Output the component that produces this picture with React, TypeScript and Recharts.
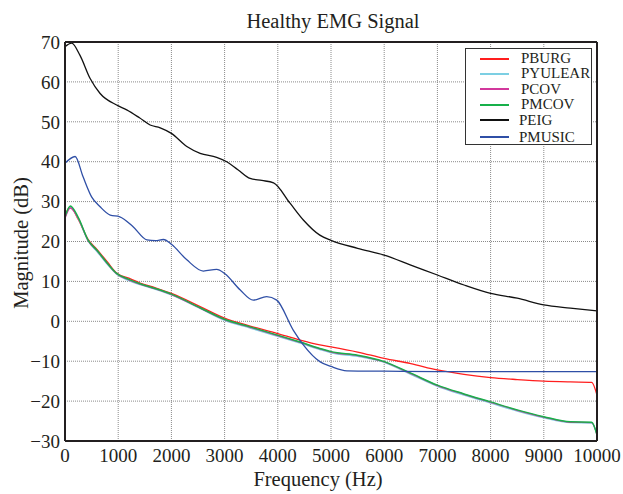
import { LineChart, Line, XAxis, YAxis, CartesianGrid } from 'recharts';

// axis ticks
const xTicks = [0, 1000, 2000, 3000, 4000, 5000, 6000, 7000, 8000, 9000, 10000];
const yTicks = [-30, -20, -10, 0, 10, 20, 30, 40, 50, 60, 70];

// AR-type estimates share one frequency grid
const arFreq = [0, 100, 250, 440, 600, 800, 970, 1200, 1410, 1700, 2000, 2540, 3000, 3480, 3980, 4420, 4790, 5000, 5500, 6000, 6500, 7000, 7500, 8000, 8500, 9000, 9500, 9900, 10000];
const pburgMag = [26.5, 28.7, 25.5, 20.4, 18.0, 14.8, 12.1, 10.8, 9.6, 8.4, 7.0, 3.7, 0.8, -1.2, -3.0, -4.7, -5.9, -6.4, -7.7, -9.3, -10.6, -12.2, -13.3, -14.1, -14.6, -15.0, -15.2, -15.3, -18.5];
const pyulearMag = [26.0, 28.6, 25.7, 20.0, 17.5, 14.2, 11.8, 10.2, 9.2, 8.0, 6.6, 3.2, 0.2, -1.7, -3.7, -5.5, -7.1, -7.9, -8.8, -10.3, -13.3, -16.3, -18.5, -20.5, -22.5, -24.2, -25.4, -25.5, -28.3];
const pcovMag = [25.8, 28.4, 25.8, 20.1, 17.7, 14.4, 11.9, 10.4, 9.3, 8.1, 6.7, 3.3, 0.4, -1.5, -3.5, -5.3, -6.9, -7.7, -8.6, -10.2, -13.1, -16.1, -18.3, -20.3, -22.3, -24.0, -25.3, -25.4, -28.4];
const pmcovMag = [26.2, 28.9, 26.0, 20.2, 17.8, 14.5, 12.0, 10.5, 9.4, 8.2, 6.8, 3.4, 0.5, -1.4, -3.4, -5.2, -6.8, -7.6, -8.5, -10.1, -13.0, -16.0, -18.2, -20.2, -22.2, -23.9, -25.2, -25.3, -28.5];

const peigFreq = [0, 125, 280, 470, 660, 970, 1160, 1400, 1600, 1790, 2000, 2290, 2540, 2850, 3040, 3250, 3480, 3700, 3920, 4230, 4480, 4790, 5000, 5500, 6000, 6500, 7000, 7500, 8000, 8500, 9000, 9500, 10000];
const peigMag = [68.8, 69.7, 66.7, 60.9, 57.1, 54.2, 53.0, 51.0, 49.2, 48.5, 47.1, 43.8, 42.1, 41.1, 40.0, 38.0, 35.8, 35.3, 34.7, 29.6, 25.4, 21.6, 20.3, 18.3, 16.6, 14.1, 11.6, 9.1, 7.0, 5.8, 4.1, 3.3, 2.6];

const pmusicFreq = [0, 190, 340, 500, 660, 850, 1030, 1280, 1540, 1700, 1850, 2000, 2290, 2600, 2850, 3000, 3290, 3540, 3790, 3980, 4290, 4480, 4790, 5000, 5300, 6000, 7000, 8000, 9000, 10000];
const pmusicMag = [39.6, 41.3, 36.2, 31.2, 28.7, 26.6, 26.2, 23.7, 20.4, 20.2, 20.5, 19.3, 15.4, 12.6, 13.0, 12.0, 7.9, 5.3, 6.2, 5.3, -2.2, -5.9, -10.1, -11.3, -12.4, -12.5, -12.6, -12.6, -12.6, -12.6];

const toPoints = (f: number[], v: number[]) => f.map((x, i) => ({ f: x, v: v[i] }));

const series = [
  { name: 'PBURG', color: '#ff1e1e', width: 1.3, data: toPoints(arFreq, pburgMag) },
  { name: 'PYULEAR', color: '#7ccfe3', width: 1.3, data: toPoints(arFreq, pyulearMag) },
  { name: 'PCOV', color: '#d2389c', width: 1.3, data: toPoints(arFreq, pcovMag) },
  { name: 'PMCOV', color: '#17b04a', width: 1.5, data: toPoints(arFreq, pmcovMag) },
  { name: 'PEIG', color: '#111111', width: 1.3, data: toPoints(peigFreq, peigMag) },
  { name: 'PMUSIC', color: '#2f4fa6', width: 1.3, data: toPoints(pmusicFreq, pmusicMag) },
];

const font = '"Liberation Serif", "DejaVu Serif", serif';
const ink = '#231f20';
const minus = (v: number) => String(v).replace('-', '\u2212');
const noLabel = () => <g />;

export default function App() {
  return (
    <div style={{ position: 'absolute', left: 0, top: 0, width: 623, height: 494, background: '#fff', fontFamily: font, color: ink }}>
      <div style={{ position: 'absolute', left: 333, top: 10, transform: 'translateX(-50%)', fontSize: 20.5, whiteSpace: 'nowrap' }}>
        Healthy EMG Signal
      </div>
      <LineChart
        width={623}
        height={494}
        margin={{ top: 42, right: 26, left: 10, bottom: 23 }}
        style={{ fontFamily: font }}
      >
        <CartesianGrid stroke="#8a8a8a" strokeDasharray="1 1" strokeWidth={1} />
        <XAxis
          dataKey="f"
          type="number"
          domain={[0, 10000]}
          ticks={xTicks}
          height={30}
          tickLine={false}
          tickSize={8}
          tickMargin={0}
          axisLine={{ stroke: ink, strokeWidth: 2 }}
          tick={{ fontSize: 19, fill: ink }}
        />
        <XAxis xAxisId="bm" type="number" domain={[0, 10000]} ticks={xTicks} mirror orientation="bottom" tickSize={5} tick={noLabel} axisLine={false} tickLine={{ stroke: ink, strokeWidth: 1.5 }} />
        <XAxis xAxisId="top" type="number" domain={[0, 10000]} ticks={xTicks} mirror orientation="top" tickSize={5} tick={noLabel} axisLine={{ stroke: ink, strokeWidth: 2 }} tickLine={{ stroke: ink, strokeWidth: 1.5 }} />
        <YAxis
          type="number"
          domain={[-30, 70]}
          ticks={yTicks}
          width={55}
          tickLine={false}
          tickSize={5}
          tickMargin={0}
          tickFormatter={minus}
          axisLine={{ stroke: ink, strokeWidth: 2 }}
          tick={{ fontSize: 19, fill: ink }}
        />
        <YAxis yAxisId="lm" type="number" domain={[-30, 70]} ticks={yTicks} mirror orientation="left" tickSize={5} tick={noLabel} axisLine={false} tickLine={{ stroke: ink, strokeWidth: 1.5 }} />
        <YAxis yAxisId="right" type="number" domain={[-30, 70]} ticks={yTicks} mirror orientation="right" tickSize={5} tick={noLabel} axisLine={{ stroke: ink, strokeWidth: 2 }} tickLine={{ stroke: ink, strokeWidth: 1.5 }} />
        {series.map((s) => (
          <Line
            key={s.name}
            data={s.data}
            dataKey="v"
            name={s.name}
            type="monotone"
            stroke={s.color}
            strokeWidth={s.width}
            dot={false}
            activeDot={false}
            isAnimationActive={false}
          />
        ))}
      </LineChart>
      <div style={{ position: 'absolute', left: 21, top: 243, transform: 'translate(-50%, -50%) rotate(-90deg)', fontSize: 20.5, whiteSpace: 'nowrap' }}>
        Magnitude (dB)
      </div>
      <div style={{ position: 'absolute', left: 318, top: 468, transform: 'translateX(-50%)', fontSize: 20.5, whiteSpace: 'nowrap' }}>
        Frequency (Hz)
      </div>
      <div style={{ position: 'absolute', left: 465, top: 48, width: 125, height: 95, border: '1px solid #333', background: '#fff', fontSize: 15 }}>
        {series.map((s, i) => (
          <div key={s.name} style={{ position: 'absolute', left: 0, top: 1 + i * 15.4 + (i === 5 ? 1.5 : 0), height: 17, display: 'flex', alignItems: 'center' }}>
            <div style={{ marginLeft: 14, width: 29, height: 2, background: s.color }} />
            <span style={{ marginLeft: i >= 4 ? 10 : 12, lineHeight: '17px' }}>{s.name}</span>
          </div>
        ))}
      </div>
    </div>
  );
}
